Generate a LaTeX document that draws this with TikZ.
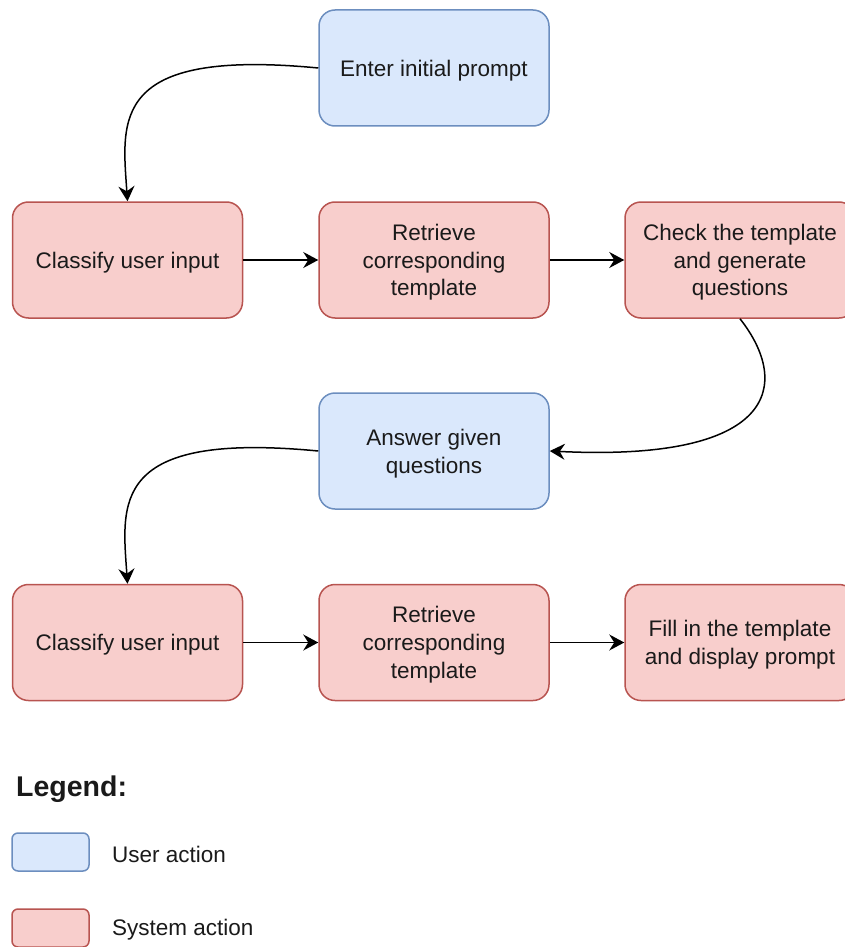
\documentclass[tikz,border=0pt]{standalone}
\usepackage{fontspec}
\setmainfont{Liberation Sans}
\usetikzlibrary{arrows.meta}
\definecolor{ubfill}{HTML}{DAE8FC}
\definecolor{ubdraw}{HTML}{6C8EBF}
\definecolor{sbfill}{HTML}{F8CECC}
\definecolor{sbdraw}{HTML}{B85450}
\definecolor{txt}{HTML}{1A1A1A}
\tikzset{
  box/.style={rounded corners=16pt, line width=1.5pt, minimum width=230pt, minimum height=116pt,
    align=center, text=txt, inner sep=0pt, text depth=0pt, font=\fontsize{22.5}{27.8}\selectfont},
  userbox/.style={box, fill=ubfill, draw=ubdraw},
  sysbox/.style={box, fill=sbfill, draw=sbdraw},
  legbox/.style={rounded corners=6pt, line width=1.5pt, minimum width=77pt, minimum height=38pt, inner sep=0pt},
  legtext/.style={anchor=west, text=txt, inner sep=0pt, font=\fontsize{22.5}{27}\selectfont},
  conn/.style={line width=1.5pt, -{Stealth[length=15pt, width=16pt, inset=5pt]}},
}
\begin{document}
\begin{tikzpicture}[x=1pt, y=-1pt]
\clip (0,0) rectangle (845,947);
\fill[white] (0,0) rectangle (845,947);

\node[userbox] (enter) at (434,68) {Enter initial prompt};
\node[sysbox] (cls1) at (127.5,260) {Classify user input};
\node[sysbox] (ret1) at (434,260) {Retrieve\\corresponding\\template};
\node[sysbox] (check) at (740,260) {Check the template\\and generate\\questions};
\node[userbox] (answer) at (434,451) {Answer given\\questions};
\node[sysbox] (cls2) at (127.5,642.5) {Classify user input};
\node[sysbox] (ret2) at (434,642.5) {Retrieve\\corresponding\\template};
\node[sysbox] (fill) at (740,642.5) {Fill in the template\\and display prompt};

\draw[conn] (enter.west) .. controls (110,48) and (122,120) .. (cls1.north);
\draw[conn] (cls1.east) -- (ret1.west);
\draw[conn] (ret1.east) -- (check.west);
\draw[conn] (check.south) .. controls (792,385) and (776,462) .. (answer.east);
\draw[conn] (answer.west) .. controls (110,431) and (122,503) .. (cls2.north);
\draw[conn] (cls2.east) -- (ret2.west);
\draw[conn] (ret2.east) -- (fill.west);

\node[anchor=west, text=txt, inner sep=0pt, font=\fontsize{28.5}{32}\selectfont\bfseries] (legend) at (16,789) {Legend:};
\node[legbox, fill=ubfill, draw=ubdraw] (lguser) at (50.5,852) {};
\node[legtext] (lgusertxt) at (112,854) {User action};
\node[legbox, fill=sbfill, draw=sbdraw] (lgsys) at (50.5,928) {};
\node[legtext] (lgsystxt) at (112,930) {System action};
\end{tikzpicture}
\end{document}
